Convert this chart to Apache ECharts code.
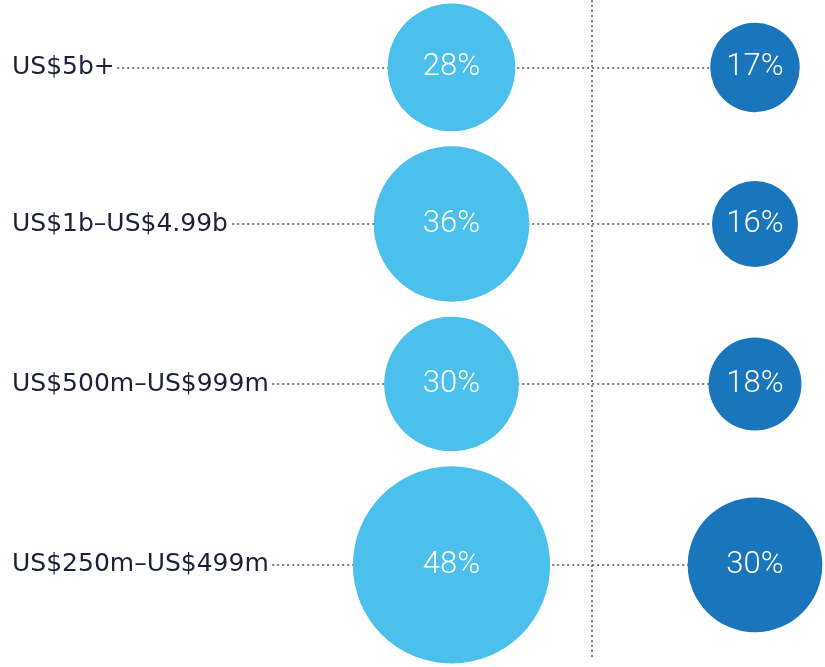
<!DOCTYPE html>
<html>
<head>
<meta charset="utf-8">
<script src="https://cdn.jsdelivr.net/npm/echarts@6/dist/echarts.min.js"></script>
<style>
html,body{margin:0;padding:0;background:#fff;}
#chart{width:825px;height:667px;}
</style>
</head>
<body>
<div id="chart"></div>
<script>
// ---- data ----
const categories = ['US$5b+', 'US$1b–US$4.99b', 'US$500m–US$999m', 'US$250m–US$499m'];
const lightValues = [28, 36, 30, 48];
const darkValues = [17, 16, 18, 30];

// ---- layout helpers (bubble diameter grows linearly with value) ----
const PX_PER_UNIT = 3.475;   // px per size unit
const SIZE_OFFSET = 8.75;    // size units added to every value
const ROW_GAP = 4.3;         // size units between stacked bubbles
const unit = v => v + SIZE_OFFSET;

// row centres: light bubbles stacked top to bottom
const rowPos = [];
let acc = 0;
lightValues.forEach((v, i) => {
  rowPos.push(acc + unit(v) / 2);
  acc += unit(v) + ROW_GAP;
});

const GRID_H = 659;
const yMin = -1.04;
const yMax = yMin + GRID_H / PX_PER_UNIT;

// columns: light = 0, dark = 1
const COL_PX = 303.5;
const xMin = -451.5 / COL_PX;
const xMax = (825 - 451.5) / COL_PX;
const sepX = (592 - 451.5) / COL_PX;
const labelX = (12 - 451.5) / COL_PX;

const lightData = lightValues.map((v, i) => [0, rowPos[i], v]);
const darkData = darkValues.map((v, i) => [1, rowPos[i], v]);
const labelData = categories.map((c, i) => ({ value: [labelX, rowPos[i]], name: c }));

const bubbleLabel = {
  show: true,
  position: 'inside',
  formatter: p => p.value[2] + '%',
  color: '#ffffff',
  fontFamily: 'Roboto',
  fontWeight: 300,
  fontSize: 31
};

const chart = echarts.init(document.getElementById('chart'), null, { renderer: 'canvas' });
chart.setOption({
  animation: false,
  backgroundColor: '#ffffff',
  grid: { left: 0, right: 0, top: 0, height: GRID_H },
  xAxis: { type: 'value', min: xMin, max: xMax, show: false, splitLine: { show: false } },
  yAxis: { type: 'value', min: yMin, max: yMax, inverse: true, show: false, splitLine: { show: false } },
  series: [
    {
      // dotted leader lines + column separator
      type: 'scatter',
      z: 1,
      clip: false,
      symbolSize: 0,
      silent: true,
      data: [],
      markLine: {
        z: 1,
        silent: true,
        symbol: 'none',
        label: { show: false },
        lineStyle: { color: '#4f525c', type: [2, 3], width: 1.5 },
        data: rowPos.map(y => [{ coord: [labelX + 0.05, y] }, { coord: [1, y] }]).concat([
          [{ coord: [sepX, yMin] }, { coord: [sepX, yMax] }]
        ])
      }
    },
    {
      // row labels
      type: 'scatter',
      z: 4,
      clip: false,
      symbolSize: 0,
      silent: true,
      data: labelData,
      itemStyle: { opacity: 1 },
      label: {
        show: true,
        position: 'right',
        distance: 0,
        formatter: p => p.name,
        color: '#1b2238',
        fontFamily: 'DejaVu Sans',
        fontSize: 25,
        backgroundColor: '#ffffff',
        padding: [2, 2, 2, 0]
      }
    },
    {
      type: 'scatter',
      z: 3,
      clip: false,
      silent: true,
      data: lightData,
      symbolSize: v => PX_PER_UNIT * unit(v[2]),
      itemStyle: { color: '#4bc0ec', opacity: 1 },
      label: bubbleLabel
    },
    {
      type: 'scatter',
      z: 3,
      clip: false,
      silent: true,
      data: darkData,
      symbolSize: v => PX_PER_UNIT * unit(v[2]),
      itemStyle: { color: '#1a76bc', opacity: 1 },
      label: bubbleLabel
    }
  ]
});
</script>
</body>
</html>
